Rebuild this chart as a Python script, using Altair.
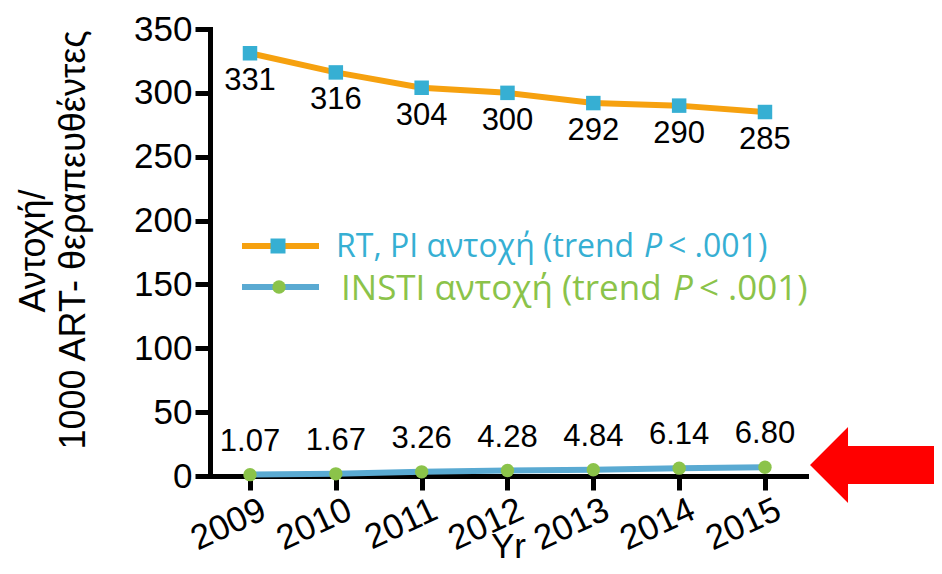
import altair as alt
import pandas as pd

# ---- data ----
years = [2009, 2010, 2011, 2012, 2013, 2014, 2015]
rt_pi = [331, 316, 304, 300, 292, 290, 285]
insti = [1.07, 1.67, 3.26, 4.28, 4.84, 6.14, 6.80]
insti_labels = ["1.07", "1.67", "3.26", "4.28", "4.84", "6.14", "6.80"]
y_ticks = [0, 50, 100, 150, 200, 250, 300, 350]
legend_rt = ["RT, PI αντοχή (trend", "P", "< .001)"]
legend_in = ["INSTI αντοχή (trend", "P", "< .001)"]
y_title = ["Αντοχή/", "1000 ART- θεραπευθέντες"]
x_title = "Yr"

ORANGE = "#F6A10F"
CYAN = "#36AFD3"
BLUE = "#5AAAD2"
GREEN = "#8BC34A"
FONT = "Liberation Sans"
LFONT = "Open Sans"

df_rt = pd.DataFrame({"year": years, "value": rt_pi, "label": [str(v) for v in rt_pi]})
df_in = pd.DataFrame({"year": years, "value": insti, "label": insti_labels})
dummy = pd.DataFrame({"a": [0]})

X = alt.X(
    "year:Q",
    scale=alt.Scale(domain=[2008.534, 2015.478], nice=False, zero=False),
    axis=alt.Axis(
        values=years, format="d", title=x_title,
        titleFontSize=35, titleFont=FONT, titleFontWeight="normal", titleColor="black",
        titleY=81, titleBaseline="alphabetic",
        labelAngle=-25, labelFontSize=35, labelFont=FONT, labelColor="black",
        labelPadding=2, labelOffset=6, labelOverlap=False, labelFlush=False,
        tickSize=14, tickWidth=5, tickColor="black",
        domainColor="black", domainWidth=5, domainCap="square", grid=False,
    ),
)
Y = alt.Y(
    "value:Q",
    scale=alt.Scale(domain=[0, 350], nice=False),
    axis=alt.Axis(
        values=y_ticks, title=None,
        labelFontSize=35, labelFont=FONT, labelColor="black", labelPadding=3,
        tickSize=15, tickWidth=5, tickColor="black",
        domainColor="black", domainWidth=5, domainCap="square", grid=False,
    ),
)

base_rt = alt.Chart(df_rt).encode(x=X, y=Y)
base_in = alt.Chart(df_in).encode(x=X, y=Y)

rt_line = base_rt.mark_line(color=ORANGE, strokeWidth=6)
rt_pts = base_rt.mark_point(shape="square", filled=True, size=210, color=CYAN, opacity=1)
rt_lbl = base_rt.mark_text(dy=28, fontSize=31, font=FONT, color="black").encode(text="label:N")

in_line = base_in.mark_line(color=BLUE, strokeWidth=6)
in_pts = base_in.mark_point(shape="circle", filled=True, size=180, color=GREEN, opacity=1)
in_lbl = base_in.mark_text(dy=-33, fontSize=31, font=FONT, color="black").encode(text="label:N")

# ---- manual legend ----
def txt(s, x, y, color, size, italic=False):
    return alt.Chart(dummy).mark_text(
        text=s, align="left", baseline="alphabetic", fontSize=size, font=LFONT,
        color=color, fontStyle="italic" if italic else "normal",
    ).encode(x=alt.value(x), y=alt.value(y))

leg = [
    alt.Chart(dummy).mark_rule(color=ORANGE, strokeWidth=6).encode(
        x=alt.value(32), x2=alt.value(109), y=alt.value(217)),
    alt.Chart(dummy).mark_point(shape="square", filled=True, size=225, color=CYAN, opacity=1).encode(
        x=alt.value(68), y=alt.value(217)),
    txt(legend_rt[0], 126, 228, CYAN, 32),
    txt(legend_rt[1], 434, 228, CYAN, 32, italic=True),
    txt(legend_rt[2], 458, 228, CYAN, 32),
    alt.Chart(dummy).mark_rule(color=BLUE, strokeWidth=6).encode(
        x=alt.value(32), x2=alt.value(109), y=alt.value(258)),
    alt.Chart(dummy).mark_point(shape="circle", filled=True, size=180, color=GREEN, opacity=1).encode(
        x=alt.value(69), y=alt.value(258)),
    txt(legend_in[0], 131, 271, GREEN, 35),
    txt(legend_in[1], 463, 271, GREEN, 35, italic=True),
    txt(legend_in[2], 489, 271, GREEN, 35),
]

# ---- y title (two rotated lines) ----
yt1 = alt.Chart(dummy).mark_text(
    text=y_title[0], angle=270, align="center", baseline="middle", fontSize=36, font=FONT, color="black"
).encode(x=alt.value(-176), y=alt.value(222))
yt2 = alt.Chart(dummy).mark_text(
    text=y_title[1], angle=270, align="center", baseline="middle", fontSize=36, font=FONT, color="black"
).encode(x=alt.value(-136), y=alt.value(211))

# ---- red arrow ----
arrow_path = "M -1 0 L -0.424 -0.576 L -0.424 -0.288 L 1 -0.288 L 1 0.288 L -0.424 0.288 L -0.424 0.576 Z"
arrow = alt.Chart(dummy).mark_point(
    shape=arrow_path, size=17424, filled=True, color="#FF0000", opacity=1, strokeWidth=0
).encode(x=alt.value(666), y=alt.value(436))

chart = alt.layer(
    in_line, rt_line, rt_pts, in_pts, rt_lbl, in_lbl, *leg, yt1, yt2, arrow
).properties(
    width=596, height=447,
    padding={"left": 202, "top": 21, "right": 128, "bottom": 88},
    autosize="none",
    background="white",
).configure_view(stroke=None)

chart.save("out.html", embed_options={"renderer": "svg", "actions": False})
